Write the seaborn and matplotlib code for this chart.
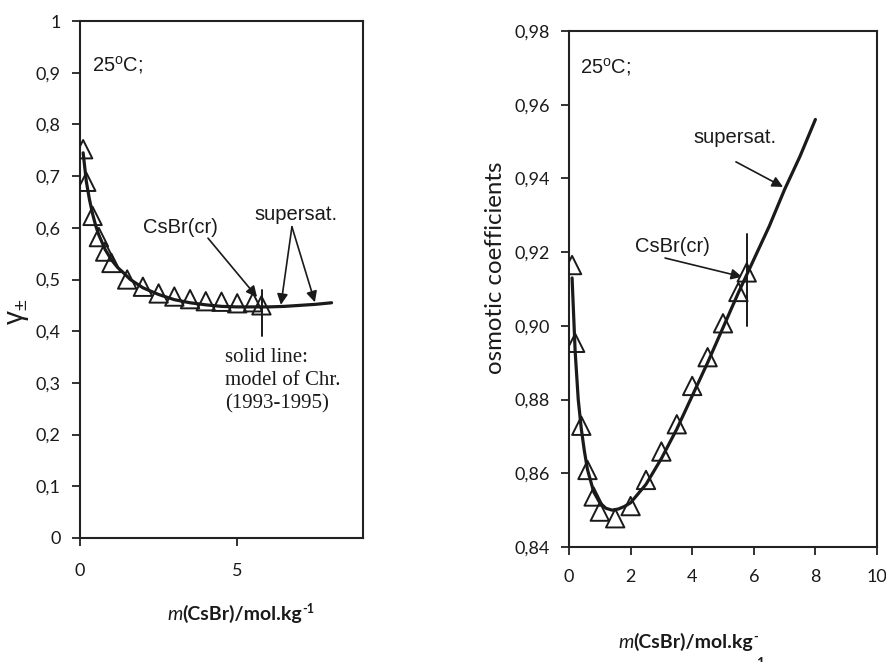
import matplotlib
matplotlib.use("Agg")
import matplotlib.pyplot as plt
import seaborn as sns
import pandas as pd
from matplotlib.ticker import FuncFormatter

m_exp = [0.1, 0.2, 0.4, 0.6, 0.8, 1.0, 1.5, 2.0, 2.5, 3.0, 3.5, 4.0, 4.5, 5.0, 5.5, 5.77]
gamma_exp = [0.752, 0.689, 0.623, 0.582, 0.554, 0.532, 0.500, 0.486, 0.473, 0.467,
             0.462, 0.458, 0.457, 0.454, 0.456, 0.450]
phi_exp = [0.9165, 0.8954, 0.8729, 0.8609, 0.8537, 0.8496, 0.8478, 0.8511, 0.8582, 0.8659,
           0.8733, 0.8837, 0.8915, 0.9007, 0.9092, 0.9145]

# model curves (solid line: model of Chr. 1993-1995)
m_model = [0.1, 0.2, 0.3, 0.4, 0.5, 0.6, 0.8, 1.0, 1.2, 1.4, 1.6, 1.8, 2.0, 2.5, 3.0,
           3.5, 4.0, 4.5, 5.0, 5.5, 6.0, 6.5, 7.0, 7.5, 8.0]
gamma_model = [0.745, 0.690, 0.655, 0.627, 0.604, 0.586, 0.558, 0.538, 0.523, 0.512, 0.500,
               0.492, 0.484, 0.471, 0.461, 0.455, 0.451, 0.448, 0.447, 0.447, 0.447,
               0.448, 0.450, 0.452, 0.455]
phi_model = [0.913, 0.893, 0.880, 0.872, 0.866, 0.861, 0.855, 0.852, 0.8505, 0.850, 0.8503,
             0.851, 0.852, 0.857, 0.864, 0.872, 0.881, 0.890, 0.8995, 0.909, 0.918,
             0.927, 0.937, 0.946, 0.956]

gamma_ticks = [0, 0.1, 0.2, 0.3, 0.4, 0.5, 0.6, 0.7, 0.8, 0.9, 1.0]
phi_ticks = [0.84, 0.86, 0.88, 0.90, 0.92, 0.94, 0.96, 0.98]

exp = pd.DataFrame({"m": m_exp, "gamma": gamma_exp, "phi": phi_exp})
model = pd.DataFrame({"m": m_model, "gamma": gamma_model, "phi": phi_model})

sns.set_style("ticks")
plt.rcParams["font.family"] = ["Lato", "DejaVu Sans"]
plt.rcParams["mathtext.fontset"] = "custom"
plt.rcParams["mathtext.rm"] = "Liberation Sans"
plt.rcParams["mathtext.it"] = "Liberation Sans:italic"

W, H = 887, 662
fig = plt.figure(figsize=(W / 100, H / 100), dpi=100)
ax1 = fig.add_axes([80 / W, 1 - 538 / H, 283 / W, 517 / H])
ax2 = fig.add_axes([569 / W, 1 - 547 / H, 308 / W, 516 / H])

ink = "#1a1a1a"
ann = dict(family="Liberation Sans", fontsize=14.5, color=ink)
arrow = dict(arrowstyle="-|>", color=ink, lw=1.2, mutation_scale=16, shrinkA=0, shrinkB=0)

for ax, col in [(ax1, "gamma"), (ax2, "phi")]:
    sns.scatterplot(data=exp, x="m", y=col, ax=ax, marker="^", s=175,
                    facecolor="none", edgecolor=ink, linewidth=1.4, zorder=3)
    sns.lineplot(data=model, x="m", y=col, ax=ax, sort=False, estimator=None,
                 color=ink, lw=2.3, zorder=4)
    ax.set_xlabel("")
    ax.set_ylabel("")
    for s in ax.spines.values():
        s.set_visible(True)
        s.set_linewidth(1.5)
        s.set_color("#222222")
    ax.tick_params(direction="out", length=6, width=1.3, color="#222222",
                   labelsize=13, labelcolor=ink)

# left panel: mean activity coefficient
ax1.set_xlim(0, 9)
ax1.set_ylim(0, 1)
ax1.set_xticks([0, 5])
ax1.set_yticks(gamma_ticks)
ax1.yaxis.set_major_formatter(FuncFormatter(lambda v, p: f"{v:g}".replace(".", ",")))
ax1.tick_params(axis="y", pad=8)
ax1.tick_params(axis="x", pad=12)
ax1.text(0.38, 0.915, "25$^{\\mathrm{o}}$C;", ha="left", va="center", **ann)
ax1.text(3.2, 0.600, "CsBr(cr)", ha="center", va="center", **ann)
ax1.annotate("", xy=(5.63, 0.466), xytext=(4.07, 0.580), arrowprops=arrow)
ax1.text(6.88, 0.625, "supersat.", ha="center", va="center", **ann)
ax1.annotate("", xy=(6.39, 0.451), xytext=(6.74, 0.602), arrowprops=arrow)
ax1.annotate("", xy=(7.47, 0.456), xytext=(6.74, 0.602), arrowprops=arrow)
ax1.plot([5.8, 5.8], [0.391, 0.480], color=ink, lw=1.4)
ax1.text(4.61, 0.368, "solid line:\nmodel of Chr.\n(1993-1995)", ha="left", va="top",
         family="Liberation Serif", fontsize=15, color=ink, linespacing=1.3)

# right panel: osmotic coefficients
ax2.set_xlim(0, 10)
ax2.set_ylim(0.84, 0.98)
ax2.set_xticks(range(0, 11, 2))
ax2.set_yticks(phi_ticks)
ax2.yaxis.set_major_formatter(FuncFormatter(lambda v, p: f"{v:.2f}".replace(".", ",")))
ax2.tick_params(axis="y", pad=8)
ax2.tick_params(axis="x", pad=10)
ax2.text(0.36, 0.9702, "25$^{\\mathrm{o}}$C;", ha="left", va="center", **ann)
ax2.text(5.39, 0.9512, "supersat.", ha="center", va="center", **ann)
ax2.annotate("", xy=(6.95, 0.9377), xytext=(5.42, 0.9445), arrowprops=arrow)
ax2.text(3.36, 0.9214, "CsBr(cr)", ha="center", va="center", **ann)
ax2.annotate("", xy=(5.62, 0.9133), xytext=(3.12, 0.9184), arrowprops=arrow)
ax2.plot([5.77, 5.77], [0.900, 0.925], color=ink, lw=1.4)

# axis titles
fig.text(18 / W, 1 - 312 / H, "$\\mathrm{\\gamma}_{\\pm}$", rotation=90, ha="center",
         va="center", fontsize=20, color=ink)
fig.text(495 / W, 1 - 268 / H, "osmotic coefficients", rotation=90, ha="center",
         va="center", fontsize=17.3, color=ink)

renderer = fig.canvas.get_renderer()


def chain_label(x0, y0, sup):
    # italic m, bold rest, small superscript, laid out left to right in pixels
    parts = [("m", dict(style="italic"), 0), ("(CsBr)/mol.kg", dict(fontweight="bold"), 0),
             (sup, dict(fontweight="bold", fontsize=9), 7)]
    x = x0
    for txt, kw, dy in parts:
        opts = dict(fontsize=14, color=ink)
        opts.update(kw)
        t = fig.text(x / W, 1 - (y0 - dy) / H, txt, ha="left", va="baseline", **opts)
        x = t.get_window_extent(renderer).x1


chain_label(167, 620, "-1")
chain_label(618, 648, "-")
fig.text(760 / W, 1 - 657 / H, "1", ha="center", va="top", fontsize=10,
         fontweight="bold", color=ink)

fig.savefig("out.png", dpi=100, facecolor="white")
